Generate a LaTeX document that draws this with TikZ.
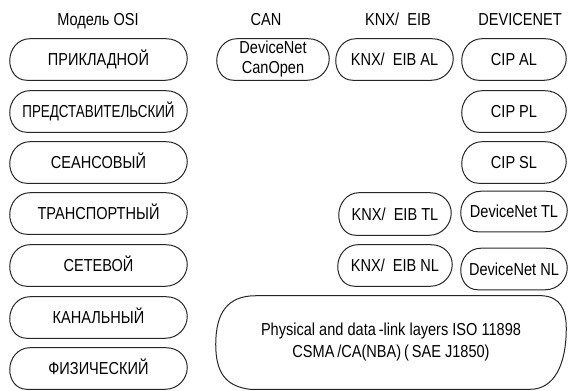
\documentclass[tikz,border=0pt]{standalone}
\usepackage{fontspec}
\setmainfont{Liberation Sans}[FakeStretch=0.84]
\usetikzlibrary{calc}

\tikzset{
  lbl/.style={font=\fontsize{13}{15}\selectfont, inner sep=0pt},
  layer/.style 2 args={lbl, minimum width=#1*0.75pt, minimum height=#2*0.75pt,
    text height=9.3pt, text depth=0pt},
  multi/.style 2 args={lbl, align=center, minimum width=#1*0.75pt, minimum height=#2*0.75pt},
  outline/.style={draw=black!85, line width=0.75pt},
  head/.style={lbl, anchor=base},
}

% capsule-like outline drawn around a named node
\newcommand\capsule[1]{%
  \draw[outline] ($(#1.north west)+(20,0)$) -- ($(#1.north east)+(-21,0)$)
    .. controls ($(#1.north east)+(-8,0)$) and ($(#1.east)+(0,-11)$) .. ($(#1.east)+(0,-1)$)
    .. controls ($(#1.east)+(0,10)$) and ($(#1.south east)+(-9,0)$) .. ($(#1.south east)+(-22,0)$)
    -- ($(#1.south west)+(17,0)$)
    .. controls ($(#1.south west)+(6,0)$) and ($(#1.west)+(0,11)$) .. ($(#1.west)+(0,1)$)
    .. controls ($(#1.west)+(0,-10)$) and ($(#1.north west)+(8,0)$) .. cycle;}

\begin{document}
\begin{tikzpicture}[x=0.75pt,y=-0.75pt]
\useasboundingbox (0,0) rectangle (568,390);

% column headings
\node[head] (hosi) at (98,25) {Модель OSI};
\node[head] (hcan) at (266,25) {CAN};
\node[head] (hknx) at (398,25) {KNX/\ \ EIB};
\node[head] (hdn)  at (520,25) {DEVICENET};

% OSI model layers
\node[layer={177}{41}] (l7) at (98.5,59.5)  {ПРИКЛАДНОЙ};
\node[layer={177}{41}] (l6) at (98.5,111.5) {\scalebox{0.92}[1]{ПРЕДСТАВИТЕЛЬСКИЙ}};
\node[layer={177}{41}] (l5) at (98.5,162.5) {СЕАНСОВЫЙ};
\node[layer={177}{41}] (l4) at (98.5,213.5) {ТРАНСПОРТНЫЙ};
\node[layer={177}{41}] (l3) at (98.5,265.5) {СЕТЕВОЙ};
\node[layer={177}{41}] (l2) at (98.5,317.5) {КАНАЛЬНЫЙ};
\node[layer={177}{41}] (l1) at (98.5,368.5) {ФИЗИЧЕСКИЙ};

% CAN
\node[multi={112}{41}] (can) at (273,59.5) {DeviceNet\\CanOpen};

% KNX / EIB
\node[layer={117}{41}] (kal) at (394.5,59.5) {KNX/\ \ EIB AL};
\node[layer={112}{42}] (ktl) at (395,214)    {KNX/\ \ EIB TL};
\node[layer={114}{41}] (knl) at (395,265.5)  {KNX/\ \ EIB NL};

% DeviceNet
\node[layer={104}{41}] (cal) at (514,59.5)  {CIP AL};
\node[layer={104}{41}] (cpl) at (514,111.5) {CIP PL};
\node[layer={104}{41}] (csl) at (514,162.5) {CIP SL};
\node[layer={106}{40}] (dtl) at (514,211.5) {DeviceNet TL};
\node[layer={106}{41}] (dnl) at (514,269)   {DeviceNet NL};

% shared physical / data-link block
\node[lbl, align=center, minimum width=350*0.75pt, minimum height=93*0.75pt,
      font=\fontsize{13}{16.5}\selectfont] (phy) at (391,342.5)
  {Physical and data\,-link layers ISO 11898\\CSMA\,/CA(NBA)\,(\,SAE J1850)};

\foreach \n in {l7,l6,l5,l4,l3,l2,l1,can,kal,ktl,knl,cal,cpl,csl,dtl,dnl}
  {\capsule{\n}}

\draw[outline] ($(phy.north west)+(40,0)$) -- ($(phy.north east)+(-24,0)$)
  .. controls ($(phy.north east)+(-6,1)$) and ($(phy.north east)+(0,14)$) .. ($(phy.east)+(0,-14)$)
  .. controls ($(phy.east)+(0,22)$) and ($(phy.south east)+(-12,0)$) .. ($(phy.south east)+(-36,0)$)
  -- ($(phy.south west)+(34,0)$)
  .. controls ($(phy.south west)+(10,-3)$) and ($(phy.west)+(0,30)$) .. ($(phy.west)+(0,2)$)
  .. controls ($(phy.west)+(0,-30)$) and ($(phy.north west)+(12,0)$) .. cycle;
\end{tikzpicture}
\end{document}
